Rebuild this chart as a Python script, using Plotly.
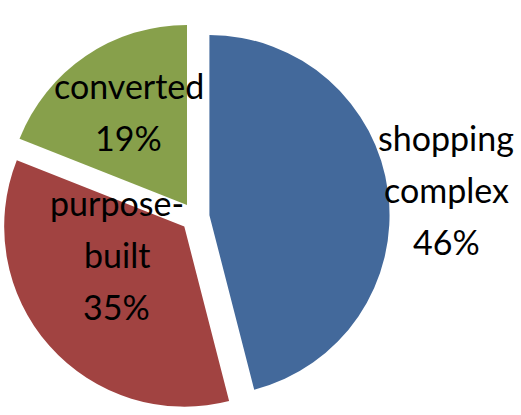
import plotly.graph_objects as go

labels = ["shopping complex", "purpose-built", "converted"]
values = [46, 35, 19]
label_lines = [["shopping", "complex"], ["purpose-", "built"], ["converted"]]
colors = ["#43699B", "#A14341", "#87A04B"]
pulls = [0.08, 0.08, 0.08]

fig = go.Figure(go.Pie(
    labels=labels, values=values, sort=False, direction="clockwise", rotation=0,
    pull=pulls, marker=dict(colors=colors, line=dict(width=0)),
    textinfo="none", hoverinfo="label+percent",
    domain=dict(x=[0.001, 0.748], y=[0.0084, 0.946]),
))

# label block anchors (paper coords, center of first line) and line spacing
anchors = [(0.857, 0.668), (0.224, 0.512), (0.247, 0.795)]
line_step = 52 / 415
total = sum(values)
for lines, v, (ax, ay) in zip(label_lines, values, anchors):
    texts = lines + [f"{round(100 * v / total)}%"]
    for i, t in enumerate(texts):
        fig.add_annotation(x=ax, y=ay - i * line_step, xref="paper", yref="paper",
                           text=t, showarrow=False, xanchor="center", yanchor="middle",
                           font=dict(family="Lato", size=34, color="black"))

fig.update_layout(width=521, height=415, margin=dict(l=0, r=0, t=0, b=0),
                  showlegend=False, paper_bgcolor="white", plot_bgcolor="white")
fig.write_html("out.html")
